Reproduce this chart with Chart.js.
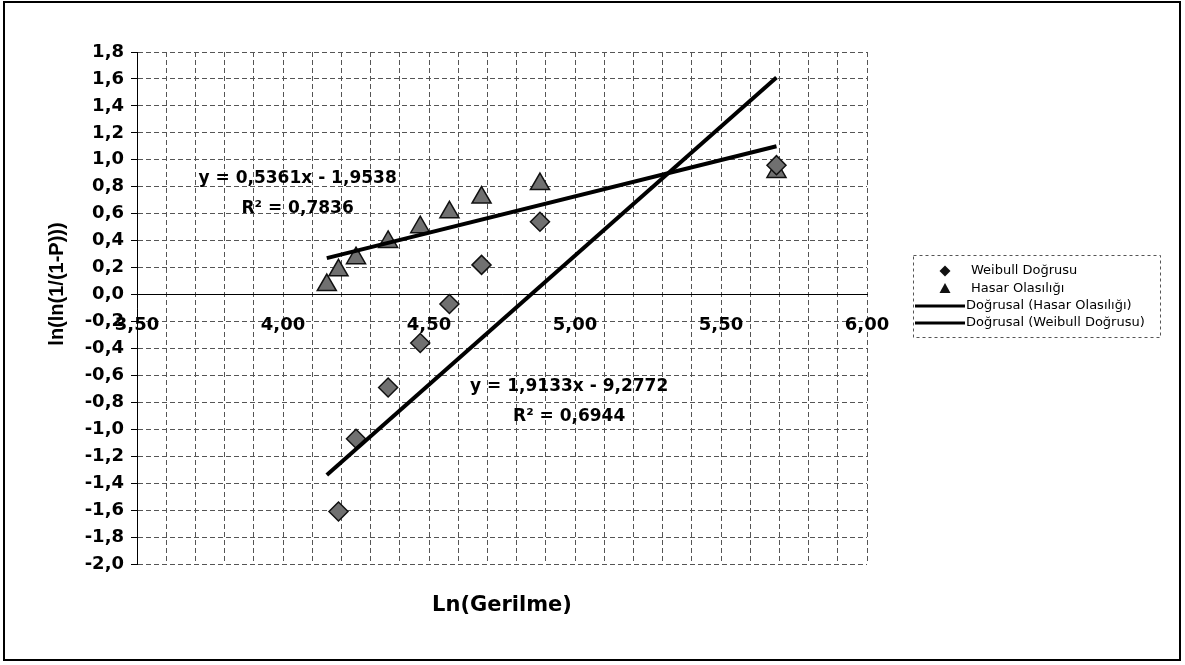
<!DOCTYPE html>
<html>
<head>
<meta charset="utf-8">
<script src="https://cdn.jsdelivr.net/npm/chart.js@4.4.1/dist/chart.umd.min.js"></script>
<style>
  html, body { margin: 0; padding: 0; background: #fff; }
  #wrap { width: 1185px; height: 665px; }
</style>
</head>
<body>
<div id="wrap"><canvas id="weibull" width="1185" height="665"></canvas></div>
<script>
// ---------- veriler ----------
const lnStress    = [4.15, 4.19, 4.25, 4.36, 4.47, 4.57, 4.68, 4.88, 5.69];
const hasarProb   = [0.07, 0.18, 0.27, 0.39, 0.50, 0.61, 0.72, 0.82, 0.91];
const weibullX    = [4.19, 4.25, 4.36, 4.47, 4.57, 4.68, 4.88, 5.69];
const weibullY    = [-1.61, -1.07, -0.69, -0.36, -0.07, 0.22, 0.54, 0.96];
const hasarFitX   = [4.15, 5.69];
const hasarFitY   = [0.27, 1.10];
const weibullFitX = [4.15, 5.69];
const weibullFitY = [-1.34, 1.61];
const xTickLabels = ['3,50', '4,00', '4,50', '5,00', '5,50', '6,00'];
const seriesNames = ['Weibull Doğrusu', 'Hasar Olasılığı', 'Doğrusal (Hasar Olasılığı)', 'Doğrusal (Weibull Doğrusu)'];
const fitLabels = [
  { lines: ['y = 0,5361x - 1,9538', 'R² = 0,7836'], x: 4.05, y: 0.86 },
  { lines: ['y = 1,9133x - 9,2772', 'R² = 0,6944'], x: 4.98, y: -0.68 },
];

const pts = (xs, ys) => xs.map((x, i) => ({ x: x, y: ys[i] }));
const FONT = "'DejaVu Sans', sans-serif";
Chart.defaults.font.family = FONT;
Chart.defaults.color = '#000';

// ---------- çerçeve, eksen başlıkları, denklemler, lejant ----------
const decorPlugin = {
  id: 'decor',
  beforeDraw(chart) {
    const ctx = chart.ctx;
    ctx.save();
    ctx.fillStyle = '#fff';
    ctx.fillRect(0, 0, chart.width, chart.height);
    ctx.restore();
  },
  afterDraw(chart) {
    const ctx = chart.ctx;
    const sx = chart.scales.x, sy = chart.scales.y;
    ctx.save();
    ctx.fillStyle = '#000';
    ctx.textAlign = 'center';
    ctx.textBaseline = 'middle';

    // denklem etiketleri
    ctx.font = 'bold 17px ' + FONT;
    fitLabels.forEach((l) => {
      const px = sx.getPixelForValue(l.x);
      const py = sy.getPixelForValue(l.y);
      l.lines.forEach((t, i) => ctx.fillText(t, px, py + i * 30));
    });

    // eksen başlıkları
    ctx.font = 'bold 21px ' + FONT;
    ctx.fillText('Ln(Gerilme)', 502, 606);
    ctx.save();
    ctx.translate(57, 284);
    ctx.rotate(-Math.PI / 2);
    ctx.font = "bold 20px 'Liberation Sans', Arial, sans-serif";
    ctx.fillText('ln(ln(1/(1-P)))', 0, 0);
    ctx.restore();

    // lejant
    ctx.strokeStyle = '#555';
    ctx.lineWidth = 1;
    ctx.setLineDash([3, 3]);
    ctx.strokeRect(913.5, 255.5, 247, 82);
    ctx.setLineDash([]);
    const rows = [271, 289, 306, 323];
    ctx.fillStyle = '#111';
    ctx.beginPath();
    ctx.moveTo(939.5, rows[0]); ctx.lineTo(945, rows[0] - 5.5);
    ctx.lineTo(950.5, rows[0]); ctx.lineTo(945, rows[0] + 5.5);
    ctx.closePath(); ctx.fill();
    ctx.beginPath();
    ctx.moveTo(945, rows[1] - 6); ctx.lineTo(950.5, rows[1] + 4);
    ctx.lineTo(939.5, rows[1] + 4); ctx.closePath(); ctx.fill();
    ctx.strokeStyle = '#000';
    ctx.lineWidth = 3;
    [rows[2], rows[3]].forEach((y) => {
      ctx.beginPath(); ctx.moveTo(915, y); ctx.lineTo(965, y); ctx.stroke();
    });
    ctx.fillStyle = '#000';
    ctx.textAlign = 'left';
    ctx.font = '13px ' + FONT;
    ctx.fillText(seriesNames[0], 971, rows[0]);
    ctx.fillText(seriesNames[1], 971, rows[1]);
    ctx.fillText(seriesNames[2], 966, rows[2]);
    ctx.fillText(seriesNames[3], 966, rows[3]);

    // dış çerçeve
    ctx.lineWidth = 2;
    ctx.strokeRect(4, 2, 1176, 658);
    ctx.restore();
  },
};

new Chart(document.getElementById('weibull'), {
  type: 'scatter',
  data: {
    datasets: [
      {
        label: seriesNames[3], type: 'line', data: pts(weibullFitX, weibullFitY),
        borderColor: '#000', borderWidth: 4, pointRadius: 0, fill: false, order: 0,
      },
      {
        label: seriesNames[2], type: 'line', data: pts(hasarFitX, hasarFitY),
        borderColor: '#000', borderWidth: 4, pointRadius: 0, fill: false, order: 0,
      },
      {
        label: seriesNames[0], data: pts(weibullX, weibullY),
        pointStyle: 'rectRot', pointRadius: 9.5,
        backgroundColor: '#707070', borderColor: '#111', borderWidth: 1.5, order: 1,
      },
      {
        label: seriesNames[1], data: pts(lnStress, hasarProb),
        pointStyle: 'triangle', pointRadius: 11,
        backgroundColor: '#707070', borderColor: '#111', borderWidth: 1.5, order: 2,
      },
    ],
  },
  options: {
    responsive: false,
    devicePixelRatio: 1,
    animation: false,
    layout: { padding: { left: 0, top: 52, right: 318, bottom: 101 } },
    plugins: { legend: { display: false }, tooltip: { enabled: false } },
    scales: {
      x: {
        type: 'linear',
        position: { y: 0 },
        min: 3.5,
        max: 6.0,
        ticks: {
          stepSize: 0.1,
          autoSkip: false,
          maxRotation: 0,
          padding: 20,
          font: { size: 18, weight: 'bold' },
          callback: (v) => {
            const k = (v - 3.5) / 0.5;
            return Math.abs(k - Math.round(k)) < 1e-6 ? xTickLabels[Math.round(k)] : '';
          },
        },
        grid: { color: '#555', drawTicks: false },
        border: { color: '#000', width: 1, dash: [5, 3] },
      },
      y: {
        min: -2.0,
        max: 1.8,
        ticks: {
          stepSize: 0.2,
          padding: 7,
          font: { size: 18, weight: 'bold' },
          callback: (v) => (Math.abs(v) < 1e-9 ? 0 : v).toFixed(1).replace('.', ','),
        },
        grid: { color: '#555', tickLength: 6, tickColor: '#000' },
        border: { color: '#000', width: 1, dash: [5, 3] },
        afterFit: (s) => { s.width = 137; },
      },
    },
  },
  plugins: [decorPlugin],
});
</script>
</body>
</html>
